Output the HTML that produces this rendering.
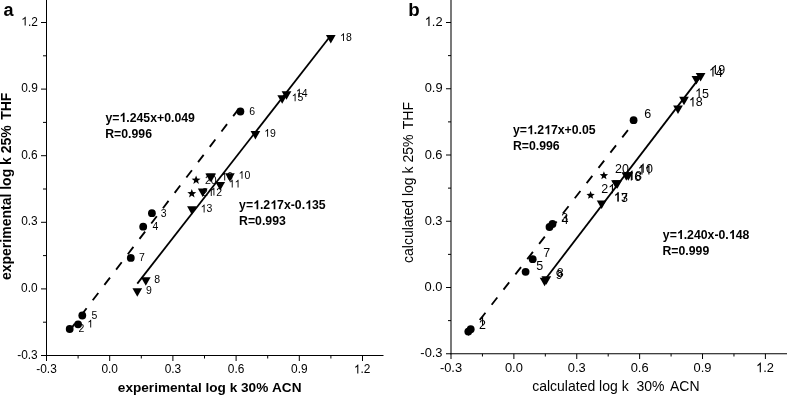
<!DOCTYPE html>
<html><head><meta charset="utf-8"><style>
html,body{margin:0;padding:0;background:#fff;}
svg{display:block;font-family:"Liberation Sans",sans-serif;}
text{white-space:pre;font-kerning:none;font-variant-ligatures:none;}
</style></head><body>
<svg style="will-change:transform" width="787" height="395" viewBox="0 0 787 395">
<rect width="787" height="395" fill="#fff"/>
<line x1="46.50" y1="0.00" x2="46.50" y2="356.00" stroke="#000" stroke-width="1" />
<line x1="46.00" y1="355.50" x2="383.50" y2="355.50" stroke="#000" stroke-width="1" />
<line x1="41.00" y1="22.50" x2="46.50" y2="22.50" stroke="#000" stroke-width="1" />
<g transform="translate(21.26,25.50) scale(1,1.035)" fill="#000"><path transform="translate(0.00,0) scale(0.00581,-0.00581)" d="M763,0L583,0L583,1147Q470,1040 222,930L222,1104Q520,1240 646,1472L763,1472Z"/><text x="6.62" y="0" font-size="11.9" font-weight="normal">.2</text></g>
<line x1="43.00" y1="55.80" x2="46.50" y2="55.80" stroke="#000" stroke-width="1" />
<line x1="41.00" y1="89.10" x2="46.50" y2="89.10" stroke="#000" stroke-width="1" />
<g transform="translate(21.22,92.10) scale(1,1.035)" fill="#000"><text x="0.00" y="0" font-size="11.9" font-weight="normal">0.9</text></g>
<line x1="43.00" y1="122.40" x2="46.50" y2="122.40" stroke="#000" stroke-width="1" />
<line x1="41.00" y1="155.70" x2="46.50" y2="155.70" stroke="#000" stroke-width="1" />
<g transform="translate(21.18,158.70) scale(1,1.035)" fill="#000"><text x="0.00" y="0" font-size="11.9" font-weight="normal">0.6</text></g>
<line x1="43.00" y1="189.00" x2="46.50" y2="189.00" stroke="#000" stroke-width="1" />
<line x1="41.00" y1="222.30" x2="46.50" y2="222.30" stroke="#000" stroke-width="1" />
<g transform="translate(21.18,225.30) scale(1,1.035)" fill="#000"><text x="0.00" y="0" font-size="11.9" font-weight="normal">0.3</text></g>
<line x1="43.00" y1="255.60" x2="46.50" y2="255.60" stroke="#000" stroke-width="1" />
<line x1="41.00" y1="288.90" x2="46.50" y2="288.90" stroke="#000" stroke-width="1" />
<g transform="translate(21.12,291.90) scale(1,1.035)" fill="#000"><text x="0.00" y="0" font-size="11.9" font-weight="normal">0.0</text></g>
<line x1="43.00" y1="322.20" x2="46.50" y2="322.20" stroke="#000" stroke-width="1" />
<line x1="41.00" y1="355.50" x2="46.50" y2="355.50" stroke="#000" stroke-width="1" />
<g transform="translate(17.22,358.50) scale(1,1.035)" fill="#000"><text x="0.00" y="0" font-size="11.9" font-weight="normal">-0.3</text></g>
<line x1="46.50" y1="355.50" x2="46.50" y2="361.00" stroke="#000" stroke-width="1" />
<g transform="translate(36.24,373.40) scale(1,1.035)" fill="#000"><text x="0.00" y="0" font-size="11.9" font-weight="normal">-0.3</text></g>
<line x1="78.10" y1="355.50" x2="78.10" y2="358.50" stroke="#000" stroke-width="1" />
<line x1="109.70" y1="355.50" x2="109.70" y2="361.00" stroke="#000" stroke-width="1" />
<g transform="translate(101.43,373.40) scale(1,1.035)" fill="#000"><text x="0.00" y="0" font-size="11.9" font-weight="normal">0.0</text></g>
<line x1="141.30" y1="355.50" x2="141.30" y2="358.50" stroke="#000" stroke-width="1" />
<line x1="172.90" y1="355.50" x2="172.90" y2="361.00" stroke="#000" stroke-width="1" />
<g transform="translate(164.66,373.40) scale(1,1.035)" fill="#000"><text x="0.00" y="0" font-size="11.9" font-weight="normal">0.3</text></g>
<line x1="204.50" y1="355.50" x2="204.50" y2="358.50" stroke="#000" stroke-width="1" />
<line x1="236.10" y1="355.50" x2="236.10" y2="361.00" stroke="#000" stroke-width="1" />
<g transform="translate(227.86,373.40) scale(1,1.035)" fill="#000"><text x="0.00" y="0" font-size="11.9" font-weight="normal">0.6</text></g>
<line x1="267.70" y1="355.50" x2="267.70" y2="358.50" stroke="#000" stroke-width="1" />
<line x1="299.30" y1="355.50" x2="299.30" y2="361.00" stroke="#000" stroke-width="1" />
<g transform="translate(291.08,373.40) scale(1,1.035)" fill="#000"><text x="0.00" y="0" font-size="11.9" font-weight="normal">0.9</text></g>
<line x1="330.90" y1="355.50" x2="330.90" y2="358.50" stroke="#000" stroke-width="1" />
<line x1="362.50" y1="355.50" x2="362.50" y2="361.00" stroke="#000" stroke-width="1" />
<g transform="translate(353.88,373.40) scale(1,1.035)" fill="#000"><path transform="translate(0.00,0) scale(0.00581,-0.00581)" d="M763,0L583,0L583,1147Q470,1040 222,930L222,1104Q520,1240 646,1472L763,1472Z"/><text x="6.62" y="0" font-size="11.9" font-weight="normal">.2</text></g>
<g transform="translate(117.87,391.70)" fill="#000"><text x="0.00" y="0" font-size="13.6" font-weight="bold">experimental&#160;log&#160;k&#160;30%&#160;ACN</text></g>
<g transform="translate(10.50,280.05) rotate(-90)" fill="#000"><text x="0.00" y="0" font-size="14" font-weight="bold">experimental&#160;log&#160;k&#160;25%</text></g>
<g transform="translate(10.50,119.80) rotate(-90)" fill="#000"><text x="0.00" y="0" font-size="14" font-weight="bold">THF</text></g>
<g transform="translate(3.57,15.60)" fill="#000"><text x="0.00" y="0" font-size="18" font-weight="bold">a</text></g>
<line x1="69.30" y1="330.97" x2="240.40" y2="106.68" stroke="#000" stroke-width="1.85" stroke-dasharray="9.2 10.1" stroke-dashoffset="0.00"/>
<line x1="137.30" y1="283.59" x2="330.80" y2="35.45" stroke="#000" stroke-width="1.8" />
<circle cx="69.7" cy="329.0" r="3.9" fill="#000"/>
<circle cx="78.1" cy="324.3" r="3.9" fill="#000"/>
<circle cx="82.3" cy="315.5" r="3.9" fill="#000"/>
<circle cx="130.8" cy="257.9" r="3.9" fill="#000"/>
<circle cx="143.2" cy="226.7" r="3.9" fill="#000"/>
<circle cx="151.9" cy="213.2" r="3.9" fill="#000"/>
<circle cx="240.4" cy="111.5" r="3.9" fill="#000"/>
<g transform="translate(78.57,332.00) scale(1,1.035)" fill="#000"><text x="0.00" y="0" font-size="10.5" font-weight="normal">2</text></g>
<g transform="translate(87.26,327.50) scale(1,1.035)" fill="#000"><path transform="translate(0.00,0) scale(0.00513,-0.00513)" d="M763,0L583,0L583,1147Q470,1040 222,930L222,1104Q520,1240 646,1472L763,1472Z"/></g>
<g transform="translate(91.48,318.70) scale(1,1.035)" fill="#000"><text x="0.00" y="0" font-size="10.5" font-weight="normal">5</text></g>
<g transform="translate(139.06,261.00) scale(1,1.035)" fill="#000"><text x="0.00" y="0" font-size="10.5" font-weight="normal">7</text></g>
<g transform="translate(152.46,229.70) scale(1,1.035)" fill="#000"><text x="0.00" y="0" font-size="10.5" font-weight="normal">4</text></g>
<g transform="translate(160.80,216.60) scale(1,1.035)" fill="#000"><text x="0.00" y="0" font-size="10.5" font-weight="normal">3</text></g>
<g transform="translate(249.17,114.60) scale(1,1.035)" fill="#000"><text x="0.00" y="0" font-size="10.5" font-weight="normal">6</text></g>
<g transform="translate(204.97,184.00) scale(1,1.035)" fill="#000"><text x="0.00" y="0" font-size="10.5" font-weight="normal">20</text></g>
<g transform="translate(201.97,196.00) scale(1,1.035)" fill="#000"><text x="0.00" y="0" font-size="10.5" font-weight="normal">2</text><path transform="translate(5.84,0) scale(0.00513,-0.00513)" d="M763,0L583,0L583,1147Q470,1040 222,930L222,1104Q520,1240 646,1472L763,1472Z"/></g>
<g transform="translate(221.26,180.40) scale(1,1.035)" fill="#000"><path transform="translate(0.00,0) scale(0.00513,-0.00513)" d="M763,0L583,0L583,1147Q470,1040 222,930L222,1104Q520,1240 646,1472L763,1472Z"/><text x="5.84" y="0" font-size="10.5" font-weight="normal">6</text></g>
<polygon points="196.10,175.40 197.28,178.48 200.57,178.65 198.00,180.72 198.86,183.90 196.10,182.10 193.34,183.90 194.20,180.72 191.63,178.65 194.92,178.48" fill="#000"/>
<polygon points="191.80,188.90 192.98,191.98 196.27,192.15 193.70,194.22 194.56,197.40 191.80,195.60 189.04,197.40 189.90,194.22 187.33,192.15 190.62,191.98" fill="#000"/>
<path d="M132.45,288.30L142.15,288.30L137.30,296.80Z" fill="#000"/>
<path d="M140.95,277.20L150.65,277.20L145.80,285.70Z" fill="#000"/>
<path d="M187.05,206.20L196.75,206.20L191.90,214.70Z" fill="#000"/>
<path d="M197.85,188.50L207.55,188.50L202.70,197.00Z" fill="#000"/>
<path d="M205.35,173.40L215.05,173.40L210.20,181.90Z" fill="#000"/>
<path d="M206.35,173.40L216.05,173.40L211.20,181.90Z" fill="#000"/>
<path d="M215.35,182.10L225.05,182.10L220.20,190.60Z" fill="#000"/>
<path d="M225.05,173.30L234.75,173.30L229.90,181.80Z" fill="#000"/>
<path d="M250.55,131.10L260.25,131.10L255.40,139.60Z" fill="#000"/>
<path d="M277.35,95.20L287.05,95.20L282.20,103.70Z" fill="#000"/>
<path d="M281.65,91.20L291.35,91.20L286.50,99.70Z" fill="#000"/>
<path d="M325.95,34.90L335.65,34.90L330.80,43.40Z" fill="#000"/>
<g transform="translate(154.34,283.30) scale(1,1.035)" fill="#000"><text x="0.00" y="0" font-size="10.5" font-weight="normal">8</text></g>
<g transform="translate(146.01,294.40) scale(1,1.035)" fill="#000"><text x="0.00" y="0" font-size="10.5" font-weight="normal">9</text></g>
<g transform="translate(200.66,212.40) scale(1,1.035)" fill="#000"><path transform="translate(0.00,0) scale(0.00513,-0.00513)" d="M763,0L583,0L583,1147Q470,1040 222,930L222,1104Q520,1240 646,1472L763,1472Z"/><text x="5.84" y="0" font-size="10.5" font-weight="normal">3</text></g>
<g transform="translate(210.46,195.50) scale(1,1.035)" fill="#000"><path transform="translate(0.00,0) scale(0.00513,-0.00513)" d="M763,0L583,0L583,1147Q470,1040 222,930L222,1104Q520,1240 646,1472L763,1472Z"/><text x="5.84" y="0" font-size="10.5" font-weight="normal">2</text></g>
<g transform="translate(228.76,187.50) scale(1,1.035)" fill="#000"><path transform="translate(0.00,0) scale(0.00513,-0.00513)" d="M763,0L583,0L583,1147Q470,1040 222,930L222,1104Q520,1240 646,1472L763,1472Z"/><path transform="translate(5.84,0) scale(0.00513,-0.00513)" d="M763,0L583,0L583,1147Q470,1040 222,930L222,1104Q520,1240 646,1472L763,1472Z"/></g>
<g transform="translate(238.56,178.80) scale(1,1.035)" fill="#000"><path transform="translate(0.00,0) scale(0.00513,-0.00513)" d="M763,0L583,0L583,1147Q470,1040 222,930L222,1104Q520,1240 646,1472L763,1472Z"/><text x="5.84" y="0" font-size="10.5" font-weight="normal">0</text></g>
<g transform="translate(264.16,136.80) scale(1,1.035)" fill="#000"><path transform="translate(0.00,0) scale(0.00513,-0.00513)" d="M763,0L583,0L583,1147Q470,1040 222,930L222,1104Q520,1240 646,1472L763,1472Z"/><text x="5.84" y="0" font-size="10.5" font-weight="normal">9</text></g>
<g transform="translate(295.86,96.50) scale(1,1.035)" fill="#000"><path transform="translate(0.00,0) scale(0.00513,-0.00513)" d="M763,0L583,0L583,1147Q470,1040 222,930L222,1104Q520,1240 646,1472L763,1472Z"/><text x="5.84" y="0" font-size="10.5" font-weight="normal">4</text></g>
<g transform="translate(291.66,101.30) scale(1,1.035)" fill="#000"><path transform="translate(0.00,0) scale(0.00513,-0.00513)" d="M763,0L583,0L583,1147Q470,1040 222,930L222,1104Q520,1240 646,1472L763,1472Z"/><text x="5.84" y="0" font-size="10.5" font-weight="normal">5</text></g>
<g transform="translate(340.06,41.10) scale(1,1.035)" fill="#000"><path transform="translate(0.00,0) scale(0.00513,-0.00513)" d="M763,0L583,0L583,1147Q470,1040 222,930L222,1104Q520,1240 646,1472L763,1472Z"/><text x="5.84" y="0" font-size="10.5" font-weight="normal">8</text></g>
<g transform="translate(105.40,121.90) scale(1,1.035)" fill="#000"><text x="0.00" y="0" font-size="12.3" font-weight="bold">y=</text><path transform="translate(14.02,0) scale(0.00601,-0.00601)" d="M856,0L575,0L575,1059Q420,915 212,846L212,1101Q540,1230 628,1466L856,1466Z"/><text x="20.86" y="0" font-size="12.3" font-weight="bold">.245x+0.049</text></g>
<g transform="translate(105.18,137.70) scale(1,1.035)" fill="#000"><text x="0.00" y="0" font-size="12.3" font-weight="bold">R=0.996</text></g>
<g transform="translate(239.10,209.30) scale(1,1.035)" fill="#000"><text x="0.00" y="0" font-size="12.3" font-weight="bold">y=</text><path transform="translate(14.02,0) scale(0.00601,-0.00601)" d="M856,0L575,0L575,1059Q420,915 212,846L212,1101Q540,1230 628,1466L856,1466Z"/><text x="20.86" y="0" font-size="12.3" font-weight="bold">.2</text><path transform="translate(31.12,0) scale(0.00601,-0.00601)" d="M856,0L575,0L575,1059Q420,915 212,846L212,1101Q540,1230 628,1466L856,1466Z"/><text x="37.96" y="0" font-size="12.3" font-weight="bold">7x-0.</text><path transform="translate(66.00,0) scale(0.00601,-0.00601)" d="M856,0L575,0L575,1059Q420,915 212,846L212,1101Q540,1230 628,1466L856,1466Z"/><text x="72.84" y="0" font-size="12.3" font-weight="bold">35</text></g>
<g transform="translate(239.08,225.00) scale(1,1.035)" fill="#000"><text x="0.00" y="0" font-size="12.3" font-weight="bold">R=0.993</text></g>
<line x1="451.00" y1="0.00" x2="451.00" y2="354.25" stroke="#000" stroke-width="1.05" />
<line x1="450.50" y1="353.75" x2="787.00" y2="353.75" stroke="#000" stroke-width="1.05" />
<line x1="446.00" y1="22.50" x2="451.00" y2="22.50" stroke="#000" stroke-width="1" />
<g transform="translate(424.72,26.00) scale(1,1.035)" fill="#000"><path transform="translate(0.00,0) scale(0.00630,-0.00630)" d="M763,0L583,0L583,1147Q470,1040 222,930L222,1104Q520,1240 646,1472L763,1472Z"/><text x="7.17" y="0" font-size="12.9" font-weight="normal">.2</text></g>
<line x1="448.00" y1="55.62" x2="451.00" y2="55.62" stroke="#000" stroke-width="1" />
<line x1="446.00" y1="88.75" x2="451.00" y2="88.75" stroke="#000" stroke-width="1" />
<g transform="translate(424.68,92.25) scale(1,1.035)" fill="#000"><text x="0.00" y="0" font-size="12.9" font-weight="normal">0.9</text></g>
<line x1="448.00" y1="121.88" x2="451.00" y2="121.88" stroke="#000" stroke-width="1" />
<line x1="446.00" y1="155.00" x2="451.00" y2="155.00" stroke="#000" stroke-width="1" />
<g transform="translate(424.63,158.50) scale(1,1.035)" fill="#000"><text x="0.00" y="0" font-size="12.9" font-weight="normal">0.6</text></g>
<line x1="448.00" y1="188.12" x2="451.00" y2="188.12" stroke="#000" stroke-width="1" />
<line x1="446.00" y1="221.25" x2="451.00" y2="221.25" stroke="#000" stroke-width="1" />
<g transform="translate(424.63,224.75) scale(1,1.035)" fill="#000"><text x="0.00" y="0" font-size="12.9" font-weight="normal">0.3</text></g>
<line x1="448.00" y1="254.38" x2="451.00" y2="254.38" stroke="#000" stroke-width="1" />
<line x1="446.00" y1="287.50" x2="451.00" y2="287.50" stroke="#000" stroke-width="1" />
<g transform="translate(424.57,291.00) scale(1,1.035)" fill="#000"><text x="0.00" y="0" font-size="12.9" font-weight="normal">0.0</text></g>
<line x1="448.00" y1="320.62" x2="451.00" y2="320.62" stroke="#000" stroke-width="1" />
<line x1="446.00" y1="353.75" x2="451.00" y2="353.75" stroke="#000" stroke-width="1" />
<g transform="translate(420.34,357.25) scale(1,1.035)" fill="#000"><text x="0.00" y="0" font-size="12.9" font-weight="normal">-0.3</text></g>
<line x1="451.00" y1="353.75" x2="451.00" y2="359.00" stroke="#000" stroke-width="1" />
<g transform="translate(439.88,372.20) scale(1,1.035)" fill="#000"><text x="0.00" y="0" font-size="12.9" font-weight="normal">-0.3</text></g>
<line x1="482.44" y1="353.75" x2="482.44" y2="356.50" stroke="#000" stroke-width="1" />
<line x1="513.88" y1="353.75" x2="513.88" y2="359.00" stroke="#000" stroke-width="1" />
<g transform="translate(504.91,372.20) scale(1,1.035)" fill="#000"><text x="0.00" y="0" font-size="12.9" font-weight="normal">0.0</text></g>
<line x1="545.32" y1="353.75" x2="545.32" y2="356.50" stroke="#000" stroke-width="1" />
<line x1="576.76" y1="353.75" x2="576.76" y2="359.00" stroke="#000" stroke-width="1" />
<g transform="translate(567.83,372.20) scale(1,1.035)" fill="#000"><text x="0.00" y="0" font-size="12.9" font-weight="normal">0.3</text></g>
<line x1="608.20" y1="353.75" x2="608.20" y2="356.50" stroke="#000" stroke-width="1" />
<line x1="639.64" y1="353.75" x2="639.64" y2="359.00" stroke="#000" stroke-width="1" />
<g transform="translate(630.71,372.20) scale(1,1.035)" fill="#000"><text x="0.00" y="0" font-size="12.9" font-weight="normal">0.6</text></g>
<line x1="671.08" y1="353.75" x2="671.08" y2="356.50" stroke="#000" stroke-width="1" />
<line x1="702.52" y1="353.75" x2="702.52" y2="359.00" stroke="#000" stroke-width="1" />
<g transform="translate(693.61,372.20) scale(1,1.035)" fill="#000"><text x="0.00" y="0" font-size="12.9" font-weight="normal">0.9</text></g>
<line x1="733.96" y1="353.75" x2="733.96" y2="356.50" stroke="#000" stroke-width="1" />
<line x1="765.40" y1="353.75" x2="765.40" y2="359.00" stroke="#000" stroke-width="1" />
<g transform="translate(756.06,372.20) scale(1,1.035)" fill="#000"><path transform="translate(0.00,0) scale(0.00630,-0.00630)" d="M763,0L583,0L583,1147Q470,1040 222,930L222,1104Q520,1240 646,1472L763,1472Z"/><text x="7.17" y="0" font-size="12.9" font-weight="normal">.2</text></g>
<line x1="796.84" y1="353.75" x2="796.84" y2="356.50" stroke="#000" stroke-width="1" />
<g transform="translate(532.16,391.30)" fill="#000"><text x="0.00" y="0" font-size="14" font-weight="normal">calculated&#160;log&#160;k&#160;&#160;30%</text></g>
<g transform="translate(669.97,391.30)" fill="#000"><text x="0.00" y="0" font-size="14" font-weight="normal">ACN</text></g>
<g transform="translate(413.30,262.99) rotate(-90)" fill="#000"><text x="0.00" y="0" font-size="14" font-weight="normal">calculated&#160;log&#160;k&#160;25%</text></g>
<g transform="translate(413.30,129.25) rotate(-90)" fill="#000"><text x="0.00" y="0" font-size="14" font-weight="normal">THF</text></g>
<g transform="translate(408.27,15.60)" fill="#000"><text x="0.00" y="0" font-size="18.7" font-weight="bold">b</text></g>
<line x1="468.00" y1="335.08" x2="633.60" y2="122.90" stroke="#000" stroke-width="1.85" stroke-dasharray="9.2 10.1" stroke-dashoffset="0.17"/>
<line x1="545.30" y1="279.19" x2="700.60" y2="76.42" stroke="#000" stroke-width="1.8" />
<circle cx="468.3" cy="331.6" r="3.9" fill="#000"/>
<circle cx="470.7" cy="329.2" r="3.9" fill="#000"/>
<circle cx="525.6" cy="271.8" r="3.9" fill="#000"/>
<circle cx="532.7" cy="259.2" r="3.9" fill="#000"/>
<circle cx="549.5" cy="227.0" r="3.9" fill="#000"/>
<circle cx="552.5" cy="224.0" r="3.9" fill="#000"/>
<circle cx="633.6" cy="120.2" r="3.9" fill="#000"/>
<g transform="translate(478.45,325.30) scale(1,1.035)" fill="#000"><path transform="translate(0.00,0) scale(0.00610,-0.00610)" d="M763,0L583,0L583,1147Q470,1040 222,930L222,1104Q520,1240 646,1472L763,1472Z"/></g>
<g transform="translate(478.97,329.30) scale(1,1.035)" fill="#000"><text x="0.00" y="0" font-size="12.5" font-weight="normal">2</text></g>
<g transform="translate(536.30,269.50) scale(1,1.035)" fill="#000"><text x="0.00" y="0" font-size="12.5" font-weight="normal">5</text></g>
<g transform="translate(543.26,257.20) scale(1,1.035)" fill="#000"><text x="0.00" y="0" font-size="12.5" font-weight="normal">7</text></g>
<g transform="translate(561.32,222.00) scale(1,1.035)" fill="#000"><text x="0.00" y="0" font-size="12.5" font-weight="normal">3</text></g>
<g transform="translate(561.51,224.30) scale(1,1.035)" fill="#000"><text x="0.00" y="0" font-size="12.5" font-weight="normal">4</text></g>
<g transform="translate(644.37,117.80) scale(1,1.035)" fill="#000"><text x="0.00" y="0" font-size="12.5" font-weight="normal">6</text></g>
<polygon points="603.90,171.20 605.02,174.06 608.08,174.24 605.71,176.19 606.49,179.16 603.90,177.50 601.31,179.16 602.09,176.19 599.72,174.24 602.78,174.06" fill="#000"/>
<polygon points="590.60,190.90 591.72,193.76 594.78,193.94 592.41,195.89 593.19,198.86 590.60,197.20 588.01,198.86 588.79,195.89 586.42,193.94 589.48,193.76" fill="#000"/>
<path d="M539.75,277.80L549.45,277.80L544.60,286.30Z" fill="#000"/>
<path d="M541.45,276.20L551.15,276.20L546.30,284.70Z" fill="#000"/>
<path d="M596.75,200.50L606.45,200.50L601.60,209.00Z" fill="#000"/>
<path d="M611.15,180.30L620.85,180.30L616.00,188.80Z" fill="#000"/>
<path d="M612.45,180.30L622.15,180.30L617.30,188.80Z" fill="#000"/>
<path d="M621.45,172.20L631.15,172.20L626.30,180.70Z" fill="#000"/>
<path d="M623.45,172.20L633.15,172.20L628.30,180.70Z" fill="#000"/>
<path d="M673.15,105.60L682.85,105.60L678.00,114.10Z" fill="#000"/>
<path d="M679.15,96.70L688.85,96.70L684.00,105.20Z" fill="#000"/>
<path d="M691.55,76.00L701.25,76.00L696.40,84.50Z" fill="#000"/>
<path d="M695.75,73.10L705.45,73.10L700.60,81.60Z" fill="#000"/>
<g transform="translate(556.86,277.00) scale(1,1.035)" fill="#000"><text x="0.00" y="0" font-size="12.5" font-weight="normal">8</text></g>
<g transform="translate(555.81,278.60) scale(1,1.035)" fill="#000"><text x="0.00" y="0" font-size="12.5" font-weight="normal">9</text></g>
<g transform="translate(615.07,172.90) scale(1,1.035)" fill="#000"><text x="0.00" y="0" font-size="12.5" font-weight="normal">20</text></g>
<g transform="translate(601.37,193.30) scale(1,1.035)" fill="#000"><text x="0.00" y="0" font-size="12.5" font-weight="normal">2</text><path transform="translate(6.95,0) scale(0.00610,-0.00610)" d="M763,0L583,0L583,1147Q470,1040 222,930L222,1104Q520,1240 646,1472L763,1472Z"/></g>
<g transform="translate(613.95,201.60) scale(1,1.035)" fill="#000"><path transform="translate(0.00,0) scale(0.00610,-0.00610)" d="M763,0L583,0L583,1147Q470,1040 222,930L222,1104Q520,1240 646,1472L763,1472Z"/><text x="6.95" y="0" font-size="12.5" font-weight="normal">3</text></g>
<g transform="translate(613.95,201.60) scale(1,1.035)" fill="#000"><path transform="translate(0.00,0) scale(0.00610,-0.00610)" d="M763,0L583,0L583,1147Q470,1040 222,930L222,1104Q520,1240 646,1472L763,1472Z"/><text x="6.95" y="0" font-size="12.5" font-weight="normal">7</text></g>
<g transform="translate(627.25,180.60) scale(1,1.035)" fill="#000"><path transform="translate(0.00,0) scale(0.00610,-0.00610)" d="M763,0L583,0L583,1147Q470,1040 222,930L222,1104Q520,1240 646,1472L763,1472Z"/><text x="6.95" y="0" font-size="12.5" font-weight="normal">6</text></g>
<g transform="translate(627.95,179.90) scale(1,1.035)" fill="#000"><path transform="translate(0.00,0) scale(0.00610,-0.00610)" d="M763,0L583,0L583,1147Q470,1040 222,930L222,1104Q520,1240 646,1472L763,1472Z"/><text x="6.95" y="0" font-size="12.5" font-weight="normal">8</text></g>
<g transform="translate(639.05,172.80) scale(1,1.035)" fill="#000"><path transform="translate(0.00,0) scale(0.00610,-0.00610)" d="M763,0L583,0L583,1147Q470,1040 222,930L222,1104Q520,1240 646,1472L763,1472Z"/><text x="6.95" y="0" font-size="12.5" font-weight="normal">0</text></g>
<g transform="translate(637.85,174.50) scale(1,1.035)" fill="#000"><path transform="translate(0.00,0) scale(0.00610,-0.00610)" d="M763,0L583,0L583,1147Q470,1040 222,930L222,1104Q520,1240 646,1472L763,1472Z"/><path transform="translate(6.95,0) scale(0.00610,-0.00610)" d="M763,0L583,0L583,1147Q470,1040 222,930L222,1104Q520,1240 646,1472L763,1472Z"/></g>
<g transform="translate(695.05,97.60) scale(1,1.035)" fill="#000"><path transform="translate(0.00,0) scale(0.00610,-0.00610)" d="M763,0L583,0L583,1147Q470,1040 222,930L222,1104Q520,1240 646,1472L763,1472Z"/><text x="6.95" y="0" font-size="12.5" font-weight="normal">5</text></g>
<g transform="translate(688.85,106.40) scale(1,1.035)" fill="#000"><path transform="translate(0.00,0) scale(0.00610,-0.00610)" d="M763,0L583,0L583,1147Q470,1040 222,930L222,1104Q520,1240 646,1472L763,1472Z"/><text x="6.95" y="0" font-size="12.5" font-weight="normal">8</text></g>
<g transform="translate(708.85,76.60) scale(1,1.035)" fill="#000"><path transform="translate(0.00,0) scale(0.00610,-0.00610)" d="M763,0L583,0L583,1147Q470,1040 222,930L222,1104Q520,1240 646,1472L763,1472Z"/><text x="6.95" y="0" font-size="12.5" font-weight="normal">4</text></g>
<g transform="translate(711.25,74.20) scale(1,1.035)" fill="#000"><path transform="translate(0.00,0) scale(0.00610,-0.00610)" d="M763,0L583,0L583,1147Q470,1040 222,930L222,1104Q520,1240 646,1472L763,1472Z"/><text x="6.95" y="0" font-size="12.5" font-weight="normal">9</text></g>
<g transform="translate(513.00,134.30) scale(1,1.035)" fill="#000"><text x="0.00" y="0" font-size="12.3" font-weight="bold">y=</text><path transform="translate(14.02,0) scale(0.00601,-0.00601)" d="M856,0L575,0L575,1059Q420,915 212,846L212,1101Q540,1230 628,1466L856,1466Z"/><text x="20.86" y="0" font-size="12.3" font-weight="bold">.2</text><path transform="translate(31.12,0) scale(0.00601,-0.00601)" d="M856,0L575,0L575,1059Q420,915 212,846L212,1101Q540,1230 628,1466L856,1466Z"/><text x="37.96" y="0" font-size="12.3" font-weight="bold">7x+0.05</text></g>
<g transform="translate(512.88,149.90) scale(1,1.035)" fill="#000"><text x="0.00" y="0" font-size="12.3" font-weight="bold">R=0.996</text></g>
<g transform="translate(662.80,239.10) scale(1,1.035)" fill="#000"><text x="0.00" y="0" font-size="12.3" font-weight="bold">y=</text><path transform="translate(14.02,0) scale(0.00601,-0.00601)" d="M856,0L575,0L575,1059Q420,915 212,846L212,1101Q540,1230 628,1466L856,1466Z"/><text x="20.86" y="0" font-size="12.3" font-weight="bold">.240x-0.</text><path transform="translate(66.00,0) scale(0.00601,-0.00601)" d="M856,0L575,0L575,1059Q420,915 212,846L212,1101Q540,1230 628,1466L856,1466Z"/><text x="72.84" y="0" font-size="12.3" font-weight="bold">48</text></g>
<g transform="translate(662.48,254.90) scale(1,1.035)" fill="#000"><text x="0.00" y="0" font-size="12.3" font-weight="bold">R=0.999</text></g>
</svg>
</body></html>
